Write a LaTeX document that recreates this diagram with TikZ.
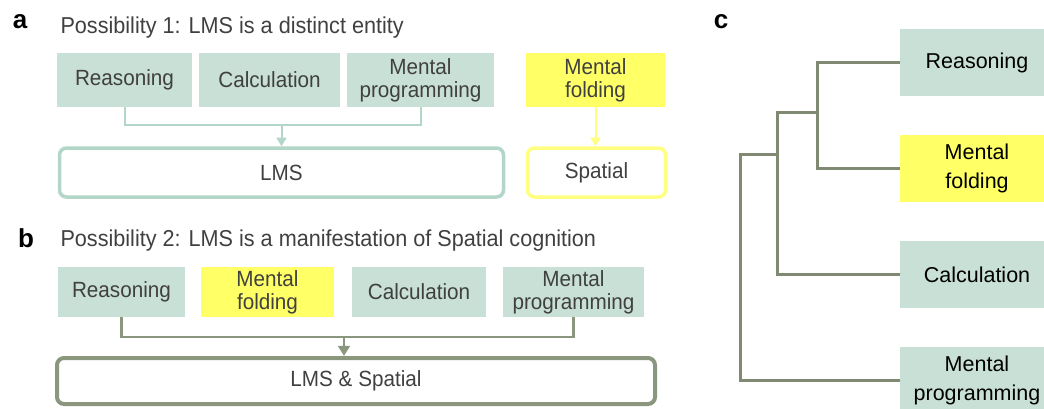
\documentclass[tikz,border=0pt]{standalone}
\usepackage{fontspec}
\setmainfont{Liberation Sans}
\newfontfamily\narrowsans[FakeStretch=0.94]{Liberation Sans}
\usetikzlibrary{arrows.meta}

\definecolor{mint}{RGB}{200,224,214}
\definecolor{mintline}{RGB}{178,214,200}
\definecolor{lemon}{RGB}{255,255,102}
\definecolor{lemonline}{RGB}{255,255,128}
\definecolor{olive}{RGB}{138,150,125}
\definecolor{treeline}{RGB}{128,138,115}
\definecolor{txtgray}{RGB}{64,64,64}

\begin{document}
\begin{tikzpicture}[x=1pt, y=-1pt, >=Triangle, font=\narrowsans\fontsize{22}{23}\selectfont]

\tikzset{
  panel/.style={font=\fontsize{26}{26}\selectfont\bfseries},
  title/.style={anchor=west, text=txtgray, font=\narrowsans\fontsize{23}{23}\selectfont},
  cell/.style={fill=mint, text=txtgray, align=center, inner sep=0pt},
  hot/.style={cell, fill=lemon},
  leaf/.style={fill=mint, text=black, align=center, inner sep=0pt, minimum width=154, minimum height=67,
    font=\fontsize{21.5}{29}\selectfont},
  target/.style={draw, rounded corners=7, text=txtgray, inner sep=0pt},
  linkA/.style={draw=mintline, line width=2pt},
  linkB/.style={draw=olive, line width=2.5pt},
  tree/.style={draw=treeline, line width=3pt}
}

\clip (0,0) rectangle (1044,408);
\useasboundingbox (0,0) rectangle (1044,408);

% --- Painel a ---
\node[panel] (labA) at (20,22) {a};
\node[title] (titA) at (57,28) {Possibility 1: LMS is a distinct entity};

\node[cell, minimum width=135, minimum height=54] (reasA) at (124.5,80) {Reasoning};
\node[cell, minimum width=141, minimum height=54] (calcA) at (269.5,80) {Calculation};
\node[cell, minimum width=147, minimum height=54] (progA) at (420.5,80) {Mental\\programming};
\node[hot,  minimum width=139, minimum height=54] (foldA) at (595.5,80) {Mental\\folding};

\node[target, draw=mintline, line width=3.5pt, minimum width=444, minimum height=49] (lmsA) at (281.5,172.5) {LMS};
\node[target, draw=lemonline, line width=3.5pt, minimum width=138, minimum height=49] (spatA) at (596.5,172.5) {Spatial};

\coordinate (joinA) at (281.5,125);

% --- Setas a ---
\draw[linkA] (reasA.south) |- (joinA) -| (progA.south);
\draw[linkA, ->] (joinA) -- (lmsA.north);
\draw[draw=lemonline, line width=2pt, ->] (foldA.south) -- (foldA.south |- spatA.north);

% --- Painel b ---
\node[panel] (labB) at (26,238) {b};
\node[title] (titB) at (57,241) {Possibility 2: LMS is a manifestation of Spatial cognition};

\node[cell, minimum width=127, minimum height=50] (reasB) at (121.5,292) {Reasoning};
\node[hot,  minimum width=133, minimum height=50] (foldB) at (267.5,292) {Mental\\folding};
\node[cell, minimum width=134, minimum height=50] (calcB) at (419,292) {Calculation};
\node[cell, minimum width=141, minimum height=50] (progB) at (573.5,292) {Mental\\programming};

\node[target, draw=olive, line width=4pt, minimum width=598, minimum height=46] (lmsB) at (356,381) {LMS \& Spatial};

\coordinate (joinB) at (344,337);

% --- Setas b ---
\draw[linkB] (reasB.south) |- (joinB) -| (progB.south);
\draw[linkB, ->] (joinB) -- (joinB |- lmsB.north);

% --- Painel c ---
\node[panel] (labC) at (721,22) {c};

\node[leaf] (reasC) at (977,62.5) {Reasoning};
\node[leaf, fill=lemon] (foldC) at (977,168.5) {Mental\\folding};
\node[leaf] (calcC) at (977,274.5) {Calculation};
\node[leaf] (progC) at (977,380) {Mental\\programming};

\coordinate (j1) at (817,112);
\coordinate (j2) at (777,154);
\coordinate (j3) at (740,154);

% --- Ramos c ---
\draw[tree] (reasC.west) -| (j1) |- (foldC.west);
\draw[tree] (j1) -| (j2) |- (calcC.west);
\draw[tree] (j2) -- (j3) |- (progC.west);

\end{tikzpicture}
\end{document}
